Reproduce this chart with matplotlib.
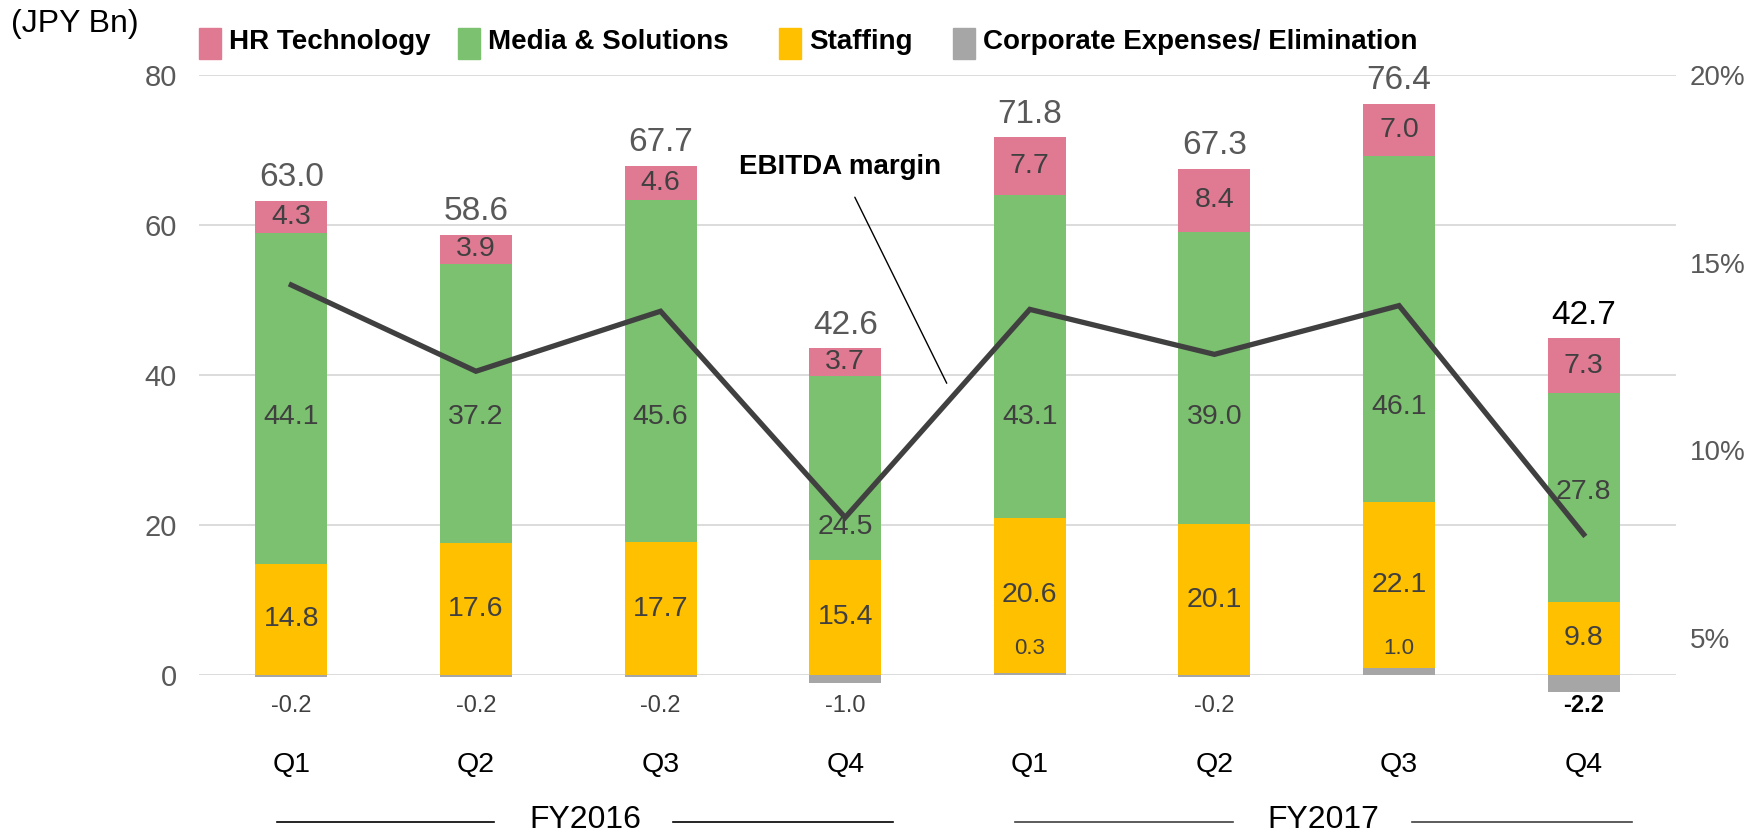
import numpy as np
import matplotlib.pyplot as plt
from matplotlib.patches import Rectangle

# data
quarters = ["Q1", "Q2", "Q3", "Q4", "Q1", "Q2", "Q3", "Q4"]
years = ["FY2016", "FY2017"]
hr_tech = [4.3, 3.9, 4.6, 3.7, 7.7, 8.4, 7.0, 7.3]
media = [44.1, 37.2, 45.6, 24.5, 43.1, 39.0, 46.1, 27.8]
staffing = [14.8, 17.6, 17.7, 15.4, 20.6, 20.1, 22.1, 9.8]
corporate = [-0.2, -0.2, -0.2, -1.0, 0.3, -0.2, 1.0, -2.2]
totals = [63.0, 58.6, 67.7, 42.6, 71.8, 67.3, 76.4, 42.7]
ebitda_margin = [14.4, 12.1, 13.7, 8.2, 13.75, 12.55, 13.85, 7.75]

# where the media labels sit (they dodge the margin line)
media_label_y = [34.4, 34.4, 34.4, 19.7, 34.4, 34.4, 35.8, 24.4]

c_hr = "#E07A93"
c_media = "#7CC170"
c_staff = "#FFC000"
c_corp = "#A6A6A6"
txt = "#404040"
plt.rcParams["font.family"] = ["Liberation Sans", "DejaVu Sans"]

fig = plt.figure(figsize=(17.52, 8.34), dpi=100)
ax = fig.add_axes([199 / 1752, 159 / 834, 1477 / 1752, 600 / 834])

x = np.arange(len(quarters))
w = 0.39
corp = np.array(corporate)
base = np.where(corp > 0, corp, 0)
staff = np.array(staffing)
med = np.array(media)

ax.bar(x, corp, w, color=c_corp, clip_on=False, zorder=3)
ax.bar(x, staff, w, bottom=base, color=c_staff, zorder=2)
ax.bar(x, med, w, bottom=base + staff, color=c_media, zorder=2)
ax.bar(x, hr_tech, w, bottom=base + staff + med, color=c_hr, zorder=2)
tops = base + staff + med + np.array(hr_tech)

for i in range(len(x)):
    ax.text(x[i], base[i] + staff[i] / 2, f"{staffing[i]:.1f}", ha="center", va="center",
            fontsize=20.5, color=txt, zorder=5)
    ax.text(x[i], media_label_y[i], f"{media[i]:.1f}", ha="center", va="center",
            fontsize=20.5, color=txt, zorder=5)
    ax.text(x[i], tops[i] - hr_tech[i] / 2, f"{hr_tech[i]:.1f}", ha="center", va="center",
            fontsize=20.5, color=txt, zorder=5)
    last = i == len(x) - 1
    ax.text(x[i], tops[i] + 1.0, f"{totals[i]:.1f}", ha="center", va="bottom",
            fontsize=24, color="black" if last else "#595959", zorder=5)
    if corporate[i] > 0:
        ax.text(x[i], 3.6, f"{corporate[i]:.1f}", ha="center", va="center",
                fontsize=16, color=txt, zorder=5)
    else:
        ax.text(x[i], -4.1, f"{corporate[i]:.1f}", ha="center", va="center",
                fontsize=17, color="black" if last else txt,
                fontweight="bold" if last else "normal", clip_on=False)
    ax.text(x[i], -12, quarters[i], ha="center", va="center", fontsize=20.5,
            color="black", clip_on=False)

# fiscal year labels with side lines
for k, year in enumerate(years):
    c = 4 * k + 1.5
    col = "black" if k == 0 else "#404040"
    ax.text(c + 0.09, -19.3, year, ha="center", va="center", fontsize=23,
            color="black", clip_on=False)
    ax.plot([c - 1.58, c - 0.4], [-19.6, -19.6], color=col, lw=1.2, clip_on=False)
    ax.plot([c + 0.57, c + 1.76], [-19.6, -19.6], color=col, lw=1.2, clip_on=False)

ax.set_xlim(-0.5, 7.5)
ax.set_ylim(0, 80)
ax.set_yticks([0, 20, 40, 60, 80])
ax.tick_params(axis="y", length=0, pad=16, labelsize=21, labelcolor="#595959")
ax.set_xticks([])
ax.grid(axis="y", color="#D9D9D9", lw=1.3, zorder=0)
ax.set_axisbelow(True)
for s in ax.spines.values():
    s.set_visible(False)

ax2 = ax.twinx()
ax2.plot(x, ebitda_margin, color="#404040", lw=3.8, zorder=6, solid_joinstyle="miter")
ax2.set_ylim(4, 20)
ax2.set_yticks([5, 10, 15, 20])
ax2.set_yticklabels(["5%", "10%", "15%", "20%"])
ax2.tick_params(axis="y", length=0, pad=10, labelsize=20, labelcolor="#595959")
for s in ax2.spines.values():
    s.set_visible(False)

ax.annotate("EBITDA margin", xy=(3.55, 38.9), xytext=(2.97, 67.8),
            ha="center", va="center", fontsize=20, fontweight="bold",
            arrowprops=dict(arrowstyle="-", color="black", lw=1,
                            shrinkA=12, shrinkB=0), zorder=7)

fig.text(11 / 1752, 1 - 24 / 834, "(JPY Bn)", fontsize=23, va="center")

# legend, drawn by hand so the uneven gaps match
names = ["HR Technology", "Media & Solutions", "Staffing", "Corporate Expenses/ Elimination"]
colors = [c_hr, c_media, c_staff, c_corp]
leg_x = [199, 458, 779, 953]
W, H = 1752, 834
for name, col, lx in zip(names, colors, leg_x):
    fig.patches.append(Rectangle((lx / W, 1 - 59 / H), 22 / W, 31 / H, color=col,
                                 transform=fig.transFigure, figure=fig))
    fig.text((lx + 30) / W, 1 - 42 / H, name, fontsize=20, fontweight="bold", va="center")

fig.savefig("out.png", dpi=100)
